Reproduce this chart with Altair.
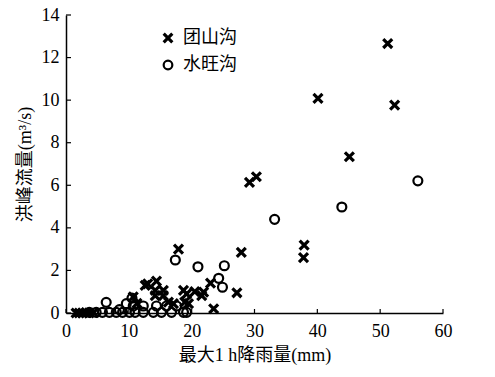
import altair as alt
import pandas as pd

# 团山沟 (crosses)
tx = [51.2, 40.1, 52.3, 45.1, 29.2, 30.3, 37.9, 37.8, 17.9, 27.9, 27.2, 23.0, 20.5, 21.6, 21.9,
      19.2, 19.5, 23.5, 18.7, 15.5, 14.2, 13.0, 14.4, 14.2, 15.5, 10.7, 16.3, 17.1, 18.9, 12.6,
      1.6, 2.1, 2.6, 3.2, 3.7, 4.4, 11.3]
ty = [12.66, 10.08, 9.77, 7.34, 6.14, 6.40, 3.19, 2.60, 3.00, 2.85, 0.95, 1.40, 1.00, 0.82, 0.98,
      0.90, 0.44, 0.20, 1.06, 1.06, 1.06, 1.37, 1.50, 0.82, 0.82, 0.76, 0.51, 0.44, 0.51, 1.30,
      0.00, 0.00, 0.00, 0.02, 0.00, 0.02, 0.45]

# 水旺沟 (circles)
wx = [56.0, 43.9, 33.2, 17.4, 21.0, 25.2, 24.3, 24.9, 19.2, 18.7, 16.8, 15.2, 13.9, 12.3, 11.0,
      10.1, 9.0, 8.0, 6.9, 5.8, 4.8, 3.7, 6.4, 9.6, 10.5, 8.5, 12.3, 14.4, 16.0, 17.6, 10.7]
wy = [6.21, 4.98, 4.40, 2.49, 2.17, 2.22, 1.63, 1.21, 0.03, 0.03, 0.03, 0.03, 0.03, 0.03, 0.03,
      0.03, 0.03, 0.03, 0.03, 0.03, 0.03, 0.03, 0.50, 0.44, 0.70, 0.16, 0.33, 0.33, 0.33, 0.33, 0.33]

series = ["团山沟", "水旺沟"]
x_ticks = [0, 10, 20, 30, 40, 50, 60]
y_ticks = [0, 2, 4, 6, 8, 10, 12, 14]

FONT = "Liberation Serif, Noto Sans CJK SC"
W, H = 377, 298

df = pd.DataFrame({
    "x": tx + wx,
    "y": ty + wy,
    "s": [series[0]] * len(tx) + [series[1]] * len(wx),
})

xscale = alt.Scale(domain=[0, 60], nice=False)
yscale = alt.Scale(domain=[0, 14], nice=False)
xaxis = alt.Axis(values=x_ticks, ticks=False, grid=False, labelPadding=9, titlePadding=6)
yaxis = alt.Axis(values=y_ticks, ticks=False, grid=False, labelPadding=7, titlePadding=7)
XT = "最大1 h降雨量(mm)"
YT = "洪峰流量(m³/s)"

XPATH = "M-1,-1L1,1M-1,1L1,-1"
CPATH = "circle"

points = alt.Chart(df).mark_point(filled=False, size=80, color="black", opacity=1).encode(
    x=alt.X("x:Q", scale=xscale, title=XT, axis=xaxis),
    y=alt.Y("y:Q", scale=yscale, title=YT, axis=yaxis),
    shape=alt.Shape("s:N", scale=alt.Scale(domain=series, range=[XPATH, CPATH]),
                    legend=alt.Legend(title=None, orient="none", legendX=93, legendY=14,
                                      symbolStrokeWidth=2.6, symbolSize=75, symbolStrokeColor="black",
                                      labelFontSize=18, labelFont=FONT, rowPadding=7,
                                      labelOffset=6)),
    strokeWidth=alt.StrokeWidth("s:N", scale=alt.Scale(domain=series, range=[3.2, 2.2]), legend=None),
)

xt = alt.Chart(pd.DataFrame({"x": x_ticks})).mark_rule(color="black", strokeWidth=1.2).encode(
    x=alt.X("x:Q", scale=xscale, title=XT, axis=xaxis),
    y=alt.value(H), y2=alt.value(H - 4),
)
yt = alt.Chart(pd.DataFrame({"y": y_ticks})).mark_rule(color="black", strokeWidth=1.2).encode(
    y=alt.Y("y:Q", scale=yscale, title=YT, axis=yaxis),
    x=alt.value(0), x2=alt.value(5),
)

chart = alt.layer(points, xt, yt).properties(
    width=W, height=H,
    autosize=alt.AutoSizeParams(type="none"),
    padding={"left": 66, "top": 15, "right": 495 - 66 - W, "bottom": 377 - 15 - H},
).configure_view(stroke=None).configure_axis(
    labelFont=FONT, titleFont=FONT, labelFontSize=18, titleFontSize=18,
    labelColor="black", titleColor="black", titleFontWeight="normal",
    domainColor="black", domainWidth=1.5,
).configure_axisX(labelFlush=False).configure_axisY(labelFlush=False)

chart.save("out.html", embed_options={"renderer": "svg", "actions": False})
